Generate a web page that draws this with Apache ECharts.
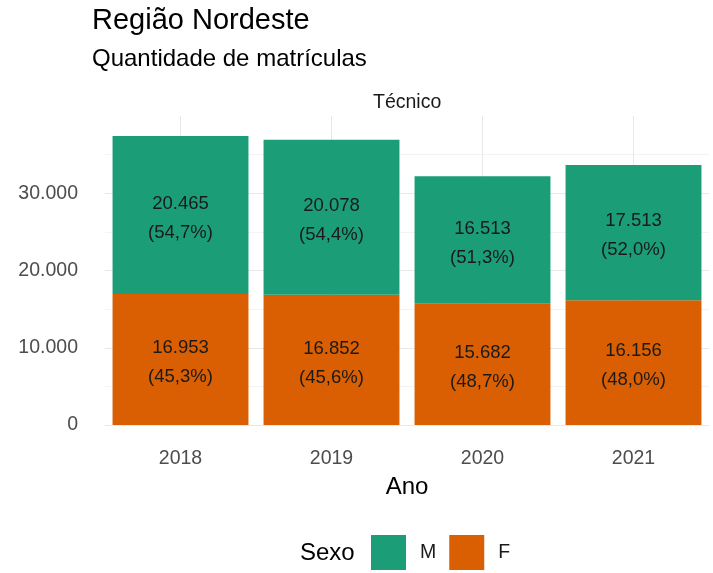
<!DOCTYPE html>
<html>
<head>
<meta charset="utf-8">
<title>Região Nordeste</title>
<style>
  html, body { margin: 0; padding: 0; width: 100%; height: 100%; background: #fff; }
  #main { width: 713px; height: 573px; }
</style>
</head>
<body>
<div id="main"></div>
<script src="https://cdn.jsdelivr.net/npm/echarts@6/dist/echarts.min.js"></script>
<script type="text/javascript">
    // dados
    var anos = ['2018', '2019', '2020', '2021'];
    var masculino = [20465, 20078, 16513, 17513];
    var feminino = [16953, 16852, 15682, 16156];
    var sexos = ['M', 'F'];

    var fonte = "'Liberation Sans', Arial, Helvetica, sans-serif";
    var verde = '#1B9E77';
    var laranja = '#D95F02';

    // 30000 -> "30.000"
    function milhar(v) {
        return String(v).replace(/\B(?=(\d{3})+(?!\d))/g, '.');
    }

    function rotulo(p) {
        var total = masculino[p.dataIndex] + feminino[p.dataIndex];
        var pct = (p.value / total * 100).toFixed(1).replace('.', ',');
        return milhar(p.value) + '\n(' + pct + '%)';
    }

    var labelBarra = {
        show: true,
        position: 'inside',
        offset: [0, 3],
        formatter: rotulo,
        color: '#1a1a1a',
        fontSize: 18.5,
        lineHeight: 29,
        fontFamily: fonte
    };

    // grade: maiores em 10.000, menores em 5.000, sem linha no topo
    var coresGrade = [];
    for (var i = 0; i <= 8; i++) {
        coresGrade.push(i == 8 ? 'rgba(0,0,0,0)' : (i % 2 == 0 ? '#e8e8e8' : '#f3f3f3'));
    }

    var myChart = echarts.init(document.getElementById('main'));
    var options = {
        backgroundColor: '#fff',
        animation: false,
        textStyle: { fontFamily: fonte },
        title: [
            { text: 'Região Nordeste', left: 92, top: 6, padding: 0,
              textStyle: { fontSize: 29, fontWeight: 'normal', color: '#000', fontFamily: fonte } },
            { text: 'Quantidade de matrículas', left: 92, top: 47, padding: 0,
              textStyle: { fontSize: 24, fontWeight: 'normal', color: '#000', fontFamily: fonte } },
            { text: 'Técnico', left: 373, top: 93, padding: 0,
              textStyle: { fontSize: 19.5, fontWeight: 'normal', color: '#1a1a1a', fontFamily: fonte } },
            { text: 'Sexo', left: 300, top: 541, padding: 0,
              textStyle: { fontSize: 24, fontWeight: 'normal', color: '#000', fontFamily: fonte } }
        ],
        legend: {
            data: sexos,
            left: 371,
            top: 535,
            padding: 0,
            itemWidth: 35,
            itemHeight: 35,
            itemGap: 13,
            icon: 'rect',
            textStyle: { fontSize: 19.5, color: '#1a1a1a', fontFamily: fonte, padding: [0, 0, 0, 9] }
        },
        grid: { left: 105, right: 4, top: 116, bottom: 148 },
        xAxis: {
            type: 'category',
            data: anos,
            name: 'Ano',
            nameLocation: 'middle',
            nameGap: 50,
            nameTextStyle: { fontSize: 24, color: '#000', fontFamily: fonte },
            axisLine: { show: false },
            axisTick: { show: false },
            axisLabel: { color: '#4d4d4d', fontSize: 19.5, margin: 24, fontFamily: fonte },
            splitLine: { show: false }
        },
        yAxis: {
            type: 'value',
            min: 0,
            max: 40000,
            interval: 5000,
            axisLine: { show: false },
            axisTick: { show: false },
            axisLabel: {
                color: '#4d4d4d', fontSize: 19.5, margin: 27, fontFamily: fonte,
                formatter: function (v) {
                    return (v % 10000 == 0 && v < 40000) ? milhar(v) : '';
                }
            },
            splitLine: { show: true, lineStyle: { color: coresGrade, width: 1 } }
        },
        series: [
            {
                name: 'F',
                type: 'bar',
                stack: 'total',
                barCategoryGap: '10%',
                itemStyle: { color: laranja },
                label: labelBarra,
                data: feminino,
                markLine: {
                    silent: true,
                    symbol: 'none',
                    z: 1,
                    label: { show: false },
                    lineStyle: { color: '#e8e8e8', type: 'solid', width: 1 },
                    data: anos.map(function (a) { return { xAxis: a }; })
                }
            },
            {
                name: 'M',
                type: 'bar',
                stack: 'total',
                barCategoryGap: '10%',
                itemStyle: { color: verde },
                label: labelBarra,
                data: masculino
            }
        ]
    };
    myChart.setOption(options);
</script>
</body>
</html>
